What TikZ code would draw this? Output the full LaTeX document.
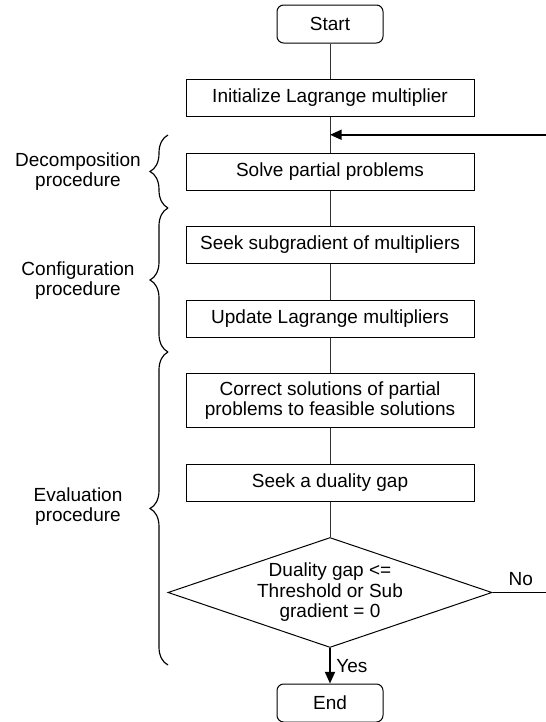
\documentclass[tikz,border=0pt]{standalone}
\usepackage{fontspec}
\setmainfont{Liberation Sans}
\usetikzlibrary{arrows.meta,positioning,shapes.geometric,decorations.pathreplacing,calc}

\begin{document}
\begin{tikzpicture}[
  x=0.6pt, y=-0.6pt,
  font=\fontsize{11.4}{12}\selectfont,
  node distance=21.3pt,
  stepbox/.style={draw, line width=0.6pt, align=center, inner sep=2pt,
                  minimum height=22.2pt, minimum width=172.8pt},
  terminal/.style={draw, line width=0.6pt, rounded corners=4pt,
                   minimum height=22.8pt, minimum width=63.6pt},
  decision/.style={draw, diamond, aspect=3, inner sep=0pt, align=center,
                   font=\fontsize{11.4}{12.3}\selectfont,
                   line width=0.6pt, minimum width=194.4pt, minimum height=66pt},
  link/.style={line width=0.6pt, draw=black!80},
  arrow/.style={-{Triangle[length=7pt,width=6pt]}, line width=1.1pt},
  phase/.style={decorate, decoration={brace, amplitude=10.8pt}, line width=0.7pt},
  phaselabel/.style={align=center}
]
\useasboundingbox (0,0) rectangle (546,722);
\node[terminal] (start) at (330,24) {Start};
\node[stepbox, below=of start]  (init)   {Initialize Lagrange multiplier};
\node[stepbox, below=of init]   (solve)  {Solve partial problems};
\node[stepbox, below=of solve]  (subgr)  {Seek subgradient of multipliers};
\node[stepbox, below=of subgr]  (update) {Update Lagrange multipliers};
\node[stepbox, below=of update, minimum height=32.4pt] (correct)
      {Correct solutions of partial\\problems to feasible solutions};
\node[stepbox, below=of correct] (gap)   {Seek a duality gap};
\node[decision, below=of gap]    (check) {Duality gap <=\\Threshold or Sub\\gradient = 0};
\node[terminal, below=of check]  (stop)  {End};
\coordinate (back) at ($(init.south)!0.5!(solve.north)$);
\coordinate (loop) at (549,0);
\draw[link] (start) -- (init);
\draw[link] (init) -- (solve);
\draw[link] (solve) -- (subgr);
\draw[link] (subgr) -- (update);
\draw[link] (update) -- (correct);
\draw[link] (correct) -- (gap);
\draw[link] (gap) -- (check);
\draw[arrow] (check) -- node[right] {Yes} (stop);
\draw[arrow] (check.east) -- node[above] {No} (check.east -| loop) |- (back);
\draw[phase] (168,208) -- (168,135);
\draw[phase] (168,352) -- (168,208);
\draw[phase] (168,665) -- (168,352);
\node[phaselabel] (decomp) at (78,172) {Decomposition\\procedure};
\node[phaselabel] (config) at (78,281) {Configuration\\procedure};
\node[phaselabel] (evalp)  at (78,507) {Evaluation\\procedure};
\end{tikzpicture}
\end{document}
